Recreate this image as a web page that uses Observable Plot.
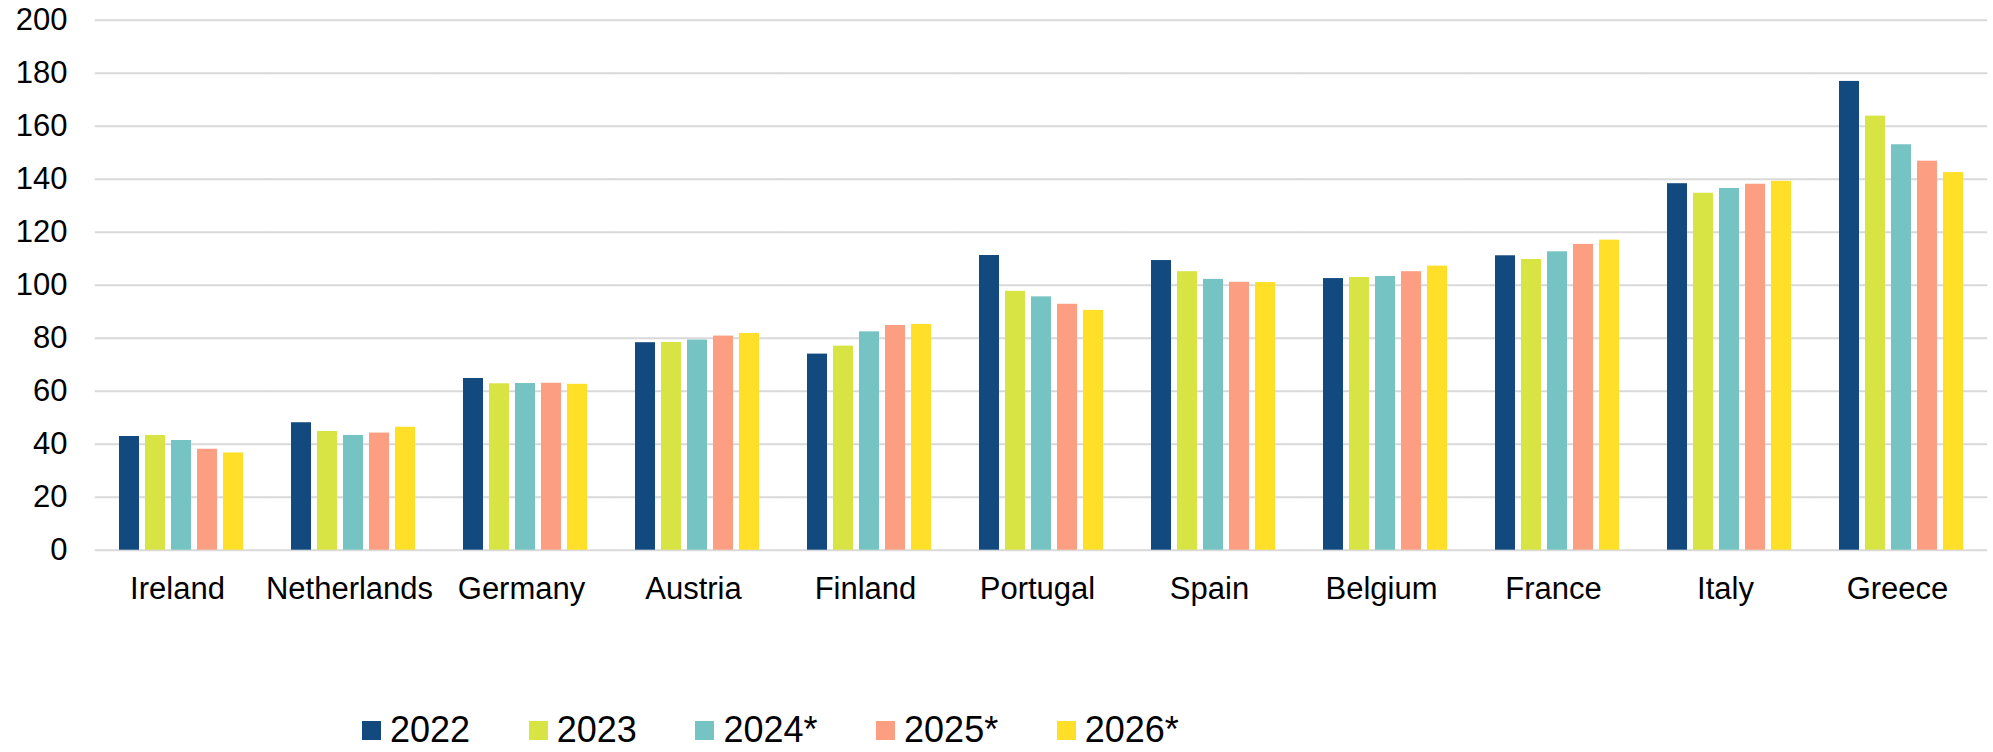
<!DOCTYPE html>
<html>
<head>
<meta charset="utf-8">
<script src="https://cdn.jsdelivr.net/npm/d3@7"></script>
<script src="https://cdn.jsdelivr.net/npm/@observablehq/plot@0.6"></script>
<style>
  html, body { margin: 0; padding: 0; background: #fff; }
  #wrap { position: relative; width: 1993px; height: 752px; overflow: hidden; font-family: "Liberation Sans", Arial, sans-serif; }
  #chart svg { display: block; }
  #legend { position: absolute; left: 362px; top: 715px; display: flex; align-items: center; font-size: 36px; color: #000; line-height: 30px; height: 30px; }
  #legend .item { display: flex; align-items: center; margin-right: 58.6px; }
  #legend .sw { width: 19px; height: 19px; margin-right: 9px; display: inline-block; }
</style>
</head>
<body>
<div id="wrap">
  <div id="chart"></div>
  <div id="legend"></div>
</div>
<script>
const countries = ["Ireland", "Netherlands", "Germany", "Austria", "Finland", "Portugal", "Spain", "Belgium", "France", "Italy", "Greece"];
const years = ["2022", "2023", "2024*", "2025*", "2026*"];
const v2022 = [42.9, 48.1, 64.8, 78.3, 74.0, 111.2, 109.3, 102.5, 111.1, 138.3, 176.9];
const v2023 = [43.3, 44.8, 62.8, 78.4, 77.0, 97.7, 105.1, 102.9, 109.7, 134.7, 163.8];
const v2024 = [41.4, 43.3, 62.9, 79.3, 82.4, 95.6, 102.2, 103.3, 112.6, 136.5, 153.0];
const v2025 = [38.1, 44.2, 63.0, 80.8, 84.8, 92.8, 101.1, 105.1, 115.4, 138.1, 146.8];
const v2026 = [36.7, 46.4, 62.6, 81.8, 85.2, 90.5, 101.0, 107.2, 117.0, 139.2, 142.5];
const yTicks = [0, 20, 40, 60, 80, 100, 120, 140, 160, 180, 200];
const colors = ["#12497f", "#d8e344", "#75c4c3", "#fb9e82", "#ffdf27"];

const series = [v2022, v2023, v2024, v2025, v2026];
const data = [];
countries.forEach((c, i) => {
  years.forEach((y, j) => data.push({country: c, year: y, value: series[j][i]}));
});

const W = 1993, ML = 93, MR = 4;
const fxPadInner = 0.27, fxPadOuter = 0.135;
const fxStep = (W - ML - MR) / (countries.length - fxPadInner + 2 * fxPadOuter);
const gridExtend = fxStep * fxPadInner / 2;

const plot = Plot.plot({
  width: W,
  height: 640,
  marginLeft: ML,
  marginRight: MR,
  marginTop: 19.7,
  marginBottom: 90.3,
  style: {fontFamily: "'Liberation Sans', Arial, sans-serif", fontSize: "31px", color: "#000", background: "#fff"},
  fx: {domain: countries, paddingInner: fxPadInner, paddingOuter: fxPadOuter, label: null},
  x: {domain: years, paddingInner: 0.22, paddingOuter: 0, axis: null},
  y: {domain: [0, 200], ticks: yTicks, label: null, tickSize: 0, tickPadding: 51},
  color: {domain: years, range: colors},
  marks: [
    Plot.ruleY(yTicks, {stroke: "#d9d9d9", strokeWidth: 2, insetLeft: -gridExtend, insetRight: -gridExtend}),
    Plot.barY(data, {fx: "country", x: "year", y: "value", fill: "year"}),
    Plot.axisFx({anchor: "bottom", tickSize: 0, tickPadding: 27, dx: -4, label: null})
  ]
});
document.getElementById("chart").appendChild(plot);

const color = plot.scale("color");
const legend = document.getElementById("legend");
years.forEach((y) => {
  const item = document.createElement("span");
  item.className = "item";
  const sw = document.createElement("span");
  sw.className = "sw";
  sw.style.background = color.apply(y);
  item.appendChild(sw);
  item.appendChild(document.createTextNode(y));
  legend.appendChild(item);
});
</script>
</body>
</html>
